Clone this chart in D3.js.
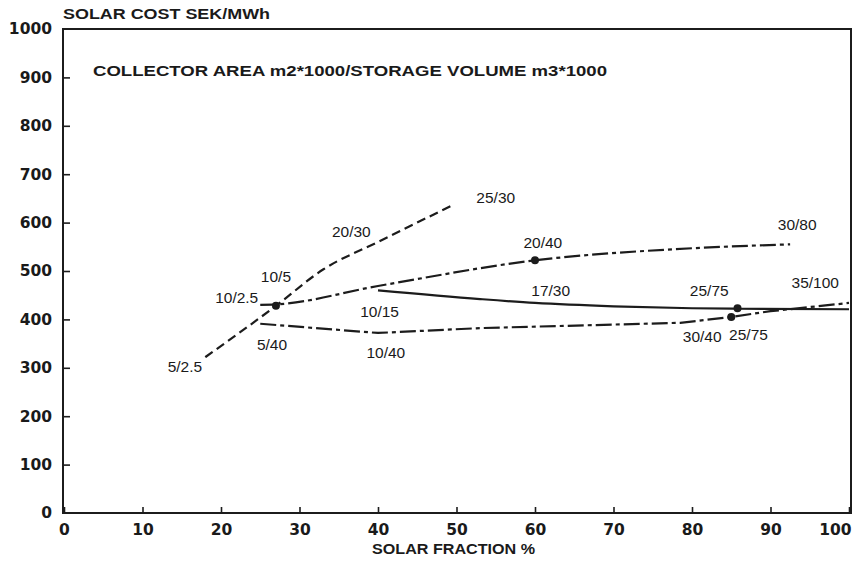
<!DOCTYPE html>
<html>
<head>
<meta charset="utf-8">
<title>Solar cost vs solar fraction</title>
<script src="https://d3js.org/d3.v7.min.js"></script>
<style>
    body { margin: 0; background: #fff; }
    svg { display: block; font-family: "Liberation Sans", Arial, sans-serif; }
    .tick-label { font-family: "DejaVu Sans", sans-serif; font-size: 15.5px; font-weight: bold; fill: #1a1a1a; }
    .axis-title { font-size: 14px; font-weight: bold; fill: #1a1a1a; }
    .note { font-size: 15.5px; fill: #1a1a1a; }
    .series { fill: none; stroke: #1c1c1c; stroke-width: 2.2; }
</style>
</head>
<body>
<div id="chart"></div>
<script>
// x = solar fraction %, y = solar cost SEK/MWh
const shortDashLine = [[18, 322], [27, 428], [33, 503], [40, 560], [49.5, 636]];
const upperDashDot = [[25, 430], [27, 431], [40, 469], [60, 522], [80, 547], [92.5, 555]];
const solidLine = [[40, 460], [53, 442], [60, 434], [70, 427], [80, 423], [86, 422], [100, 421]];
const lowerDashDot = [[25, 391], [40, 372], [53, 382], [78.5, 393], [85, 405], [90, 417], [100, 434]];

const markers = [[27, 428], [60, 522], [85.8, 423], [85, 405]];

// size labels: [text, x, y] (label centre)
const labels = [
    ["5/2.5", 15.4, 302],
    ["10/2.5", 22, 446],
    ["10/5", 27, 488],
    ["20/30", 36.6, 581],
    ["25/30", 55, 651],
    ["5/40", 26.5, 347],
    ["10/15", 40.2, 417],
    ["10/40", 41, 331],
    ["20/40", 61, 558],
    ["17/30", 62, 459],
    ["25/75", 82.2, 459],
    ["30/40", 81.3, 364],
    ["25/75", 87.2, 368],
    ["30/80", 93.4, 595],
    ["35/100", 95.7, 477]
];

const xTicks = [0, 10, 20, 30, 40, 50, 60, 70, 80, 90, 100];
const yTicks = [0, 100, 200, 300, 400, 500, 600, 700, 800, 900, 1000];

const W = 854, H = 561;
const margin = {top: 29, right: 2, bottom: 48, left: 63};

const svg = d3.select("#chart").append("svg")
    .attr("width", W)
    .attr("height", H);

const x = d3.scaleLinear().domain([0, 100]).range([margin.left + 1, W - margin.right - 3]);
const y = d3.scaleLinear().domain([0, 1000]).range([H - margin.bottom, margin.top]);

// frame
svg.append("rect")
    .attr("x", x(0) - 1).attr("y", y(1000))
    .attr("width", x(100) - x(0) + 3).attr("height", y(0) - y(1000))
    .attr("fill", "none").attr("stroke", "#1c1c1c").attr("stroke-width", 2);

// axes with inside ticks
svg.append("g")
    .attr("transform", `translate(0,${y(0)})`)
    .call(d3.axisBottom(x).tickValues(xTicks).tickSize(-6).tickPadding(11))
    .call(g => g.select(".domain").remove())
    .call(g => g.selectAll("line").attr("stroke", "#1c1c1c").attr("stroke-width", 1.6))
    .call(g => g.selectAll("text").attr("class", "tick-label").attr("fill", null)
        .style("font-family", null).style("font-size", null))
    // last label sits inside the frame edge
    .call(g => g.selectAll("text").filter(d => d === 100).attr("text-anchor", "end").attr("dx", 2));

svg.append("g")
    .attr("transform", `translate(${x(0) - 1},0)`)
    .call(d3.axisLeft(y).tickValues(yTicks.filter(d => d > 0 && d < 1000)).tickSize(-7).tickFormat(""))
    .call(g => g.select(".domain").remove())
    .call(g => g.selectAll("line").attr("stroke", "#1c1c1c").attr("stroke-width", 1.6));

svg.append("g").selectAll("text")
    .data(yTicks)
    .join("text")
    .attr("class", "tick-label")
    .attr("x", 52)
    .attr("y", d => y(d))
    .attr("dy", "0.35em")
    .attr("text-anchor", "end")
    .text(d => d);

// titles
svg.append("text").attr("class", "axis-title")
    .attr("x", 63).attr("y", 19)
    .attr("textLength", 207).attr("lengthAdjust", "spacingAndGlyphs")
    .text("SOLAR COST SEK/MWh");

svg.append("text").attr("class", "axis-title")
    .attr("x", 372).attr("y", 554)
    .attr("textLength", 163).attr("lengthAdjust", "spacingAndGlyphs")
    .text("SOLAR FRACTION %");

svg.append("text").attr("class", "axis-title")
    .attr("x", 93).attr("y", 76)
    .style("font-size", "15px").style("font-weight", "600")
    .attr("textLength", 514).attr("lengthAdjust", "spacingAndGlyphs")
    .text("COLLECTOR AREA m2*1000/STORAGE VOLUME m3*1000");

// series
const smooth = d3.line().x(d => x(d[0])).y(d => y(d[1])).curve(d3.curveMonotoneX);
const straight = d3.line().x(d => x(d[0])).y(d => y(d[1]));

svg.append("path").datum(shortDashLine).attr("class", "series")
    .attr("stroke-dasharray", "9,5").attr("d", smooth);
svg.append("path").datum(upperDashDot).attr("class", "series")
    .attr("stroke-dasharray", "16,4,4,4").attr("d", smooth);
svg.append("path").datum(solidLine).attr("class", "series").attr("d", smooth);
svg.append("path").datum(lowerDashDot).attr("class", "series")
    .attr("stroke-dasharray", "16,4,4,4").attr("d", straight);

svg.append("g").selectAll("circle")
    .data(markers)
    .join("circle")
    .attr("cx", d => x(d[0]))
    .attr("cy", d => y(d[1]))
    .attr("r", 4)
    .attr("fill", "#1c1c1c");

svg.append("g").selectAll("text")
    .data(labels)
    .join("text")
    .attr("class", "note")
    .attr("x", d => x(d[1]))
    .attr("y", d => y(d[2]))
    .attr("dy", "0.35em")
    .attr("text-anchor", "middle")
    .text(d => d[0]);
</script>
</body>
</html>
